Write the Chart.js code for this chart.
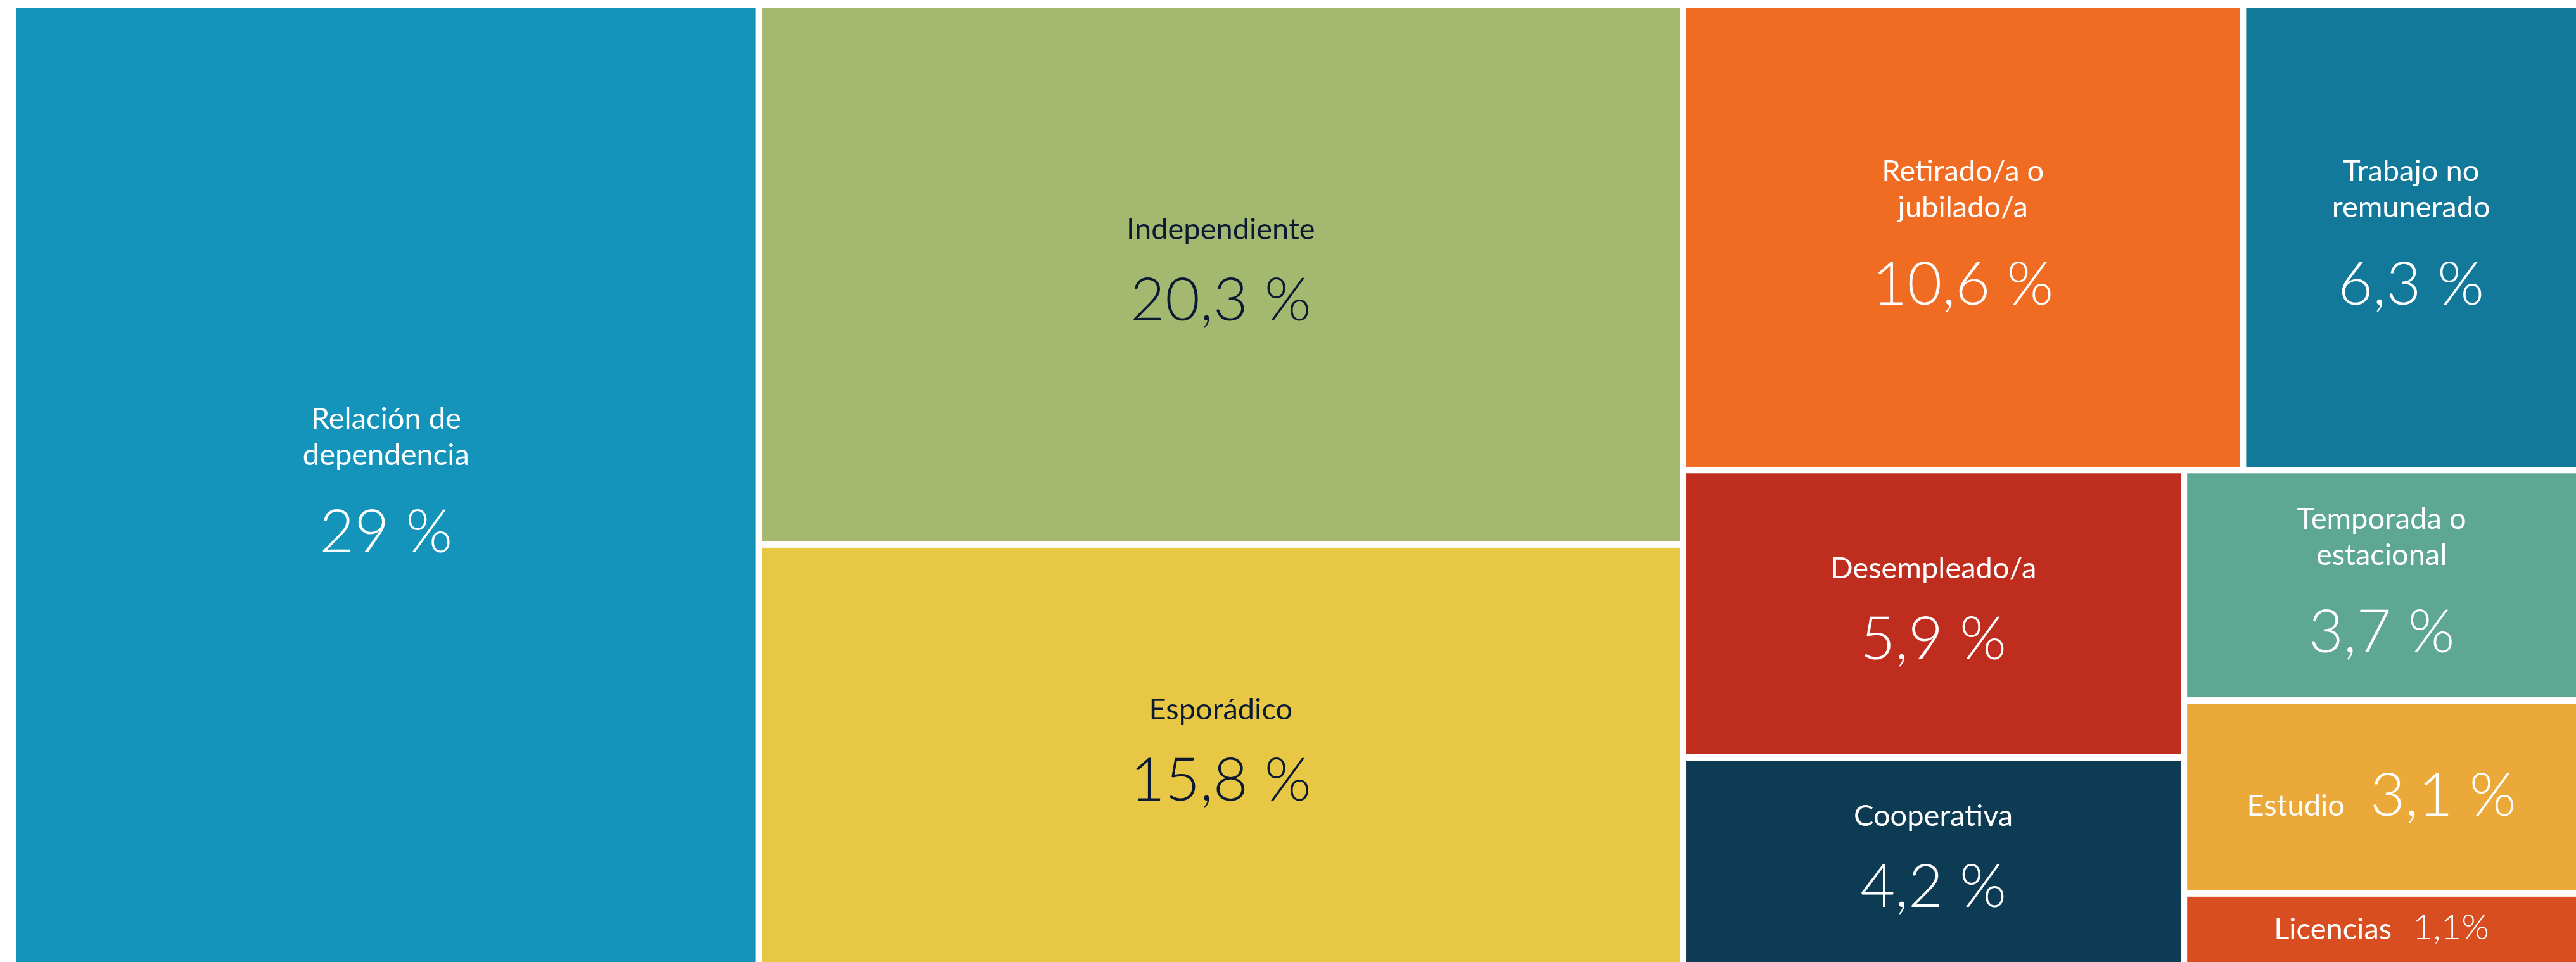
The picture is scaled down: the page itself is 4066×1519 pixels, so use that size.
<!DOCTYPE html>
<html>
<head>
<meta charset="utf-8">
<script src="https://cdn.jsdelivr.net/npm/chart.js@4/dist/chart.umd.min.js"></script>
<style>
  html, body { margin: 0; padding: 0; background: #ffffff; }
  #wrap { width: 4066px; height: 1519px; position: relative; }
</style>
</head>
<body>
<div id="wrap"><canvas id="c"></canvas></div>
<script>
// ---------------- DATA ----------------
const categories = [
  ["Relación de", "dependencia"],
  ["Independiente"],
  ["Esporádico"],
  ["Retirado/a o", "jubilado/a"],
  ["Trabajo no", "remunerado"],
  ["Desempleado/a"],
  ["Cooperativa"],
  ["Temporada o", "estacional"],
  ["Estudio"],
  ["Licencias"]
];
const values = [29, 20.3, 15.8, 10.6, 6.3, 5.9, 4.2, 3.7, 3.1, 1.1];
const valueLabels = ["29 %", "20,3 %", "15,8 %", "10,6 %", "6,3 %", "5,9 %", "4,2 %", "3,7 %", "3,1 %", "1,1%"];

// ---------------- STYLE / LAYOUT STRUCTURE ----------------
const fillColors = ["#1594bb", "#a4b86f", "#e8c744", "#f06c22", "#13799b",
                    "#bf2d1f", "#0e3b54", "#5ea893", "#eba93a", "#d84e20"];
const textColors = ["#ffffff", "#0b1a33", "#0b1a33", "#ffffff", "#ffffff",
                    "#ffffff", "#ffffff", "#ffffff", "#ffffff", "#ffffff"];
const inlineItems = new Set([8, 9]);   // label and value on one line
const smallValueItems = new Set([9]);  // smaller value text

// nesting of the treemap: 'h' splits horizontally (columns), 'v' vertically (rows)
const layoutTree = { dir: 'h', children: [
  0,
  { dir: 'v', children: [1, 2] },
  { dir: 'v', children: [
    { dir: 'h', children: [3, 4] },
    { dir: 'h', children: [
      { dir: 'v', children: [5, 6] },
      { dir: 'v', children: [7, 8, 9] }
    ]}
  ]}
]};

const GAP = 10;
const FONT = 'Lato';

function nodeSum(n) {
  return (typeof n === 'number') ? values[n] : n.children.reduce((s, c) => s + nodeSum(c), 0);
}
// layout in value space (0..100 on both axes)
function layout(n, x0, x1, y0, y1, out) {
  if (typeof n === 'number') { out[n] = { x0, x1, y0, y1 }; return; }
  const total = nodeSum(n);
  let acc = 0;
  n.children.forEach(c => {
    const f0 = acc / total;
    acc += nodeSum(c);
    const f1 = acc / total;
    if (n.dir === 'h') layout(c, x0 + (x1 - x0) * f0, x0 + (x1 - x0) * f1, y0, y1, out);
    else layout(c, x0, x1, y0 + (y1 - y0) * f0, y0 + (y1 - y0) * f1, out);
  });
}

const treemapPlugin = {
  id: 'treemapCells',
  afterDatasetsDraw(chart) {
    const ctx = chart.ctx;
    const xs = chart.scales.x, ys = chart.scales.y;
    const cells = [];
    layout(layoutTree, xs.min, xs.max, ys.min, ys.max, cells);
    const eps = 1e-6;
    cells.forEach((c, i) => {
      let l = xs.getPixelForValue(c.x0), r = xs.getPixelForValue(c.x1);
      let t = ys.getPixelForValue(c.y0), b = ys.getPixelForValue(c.y1);
      if (c.x0 > xs.min + eps) l += GAP / 2;
      if (c.x1 < xs.max - eps) r -= GAP / 2;
      if (c.y0 > ys.min + eps) t += GAP / 2;
      if (c.y1 < ys.max - eps) b -= GAP / 2;
      ctx.save();
      ctx.fillStyle = fillColors[i];
      ctx.fillRect(l, t, r - l, b - t);
      drawText(ctx, i, l, r, t, b);
      ctx.restore();
    });
  }
};

function drawText(ctx, i, l, r, t, b) {
  const cx = (l + r) / 2, cy = (t + b) / 2;
  const labelFont = '400 47px ' + FONT;
  const numSize = smallValueItems.has(i) ? 56 : 95;
  const numFont = '300 ' + numSize + 'px ' + FONT;
  const labelCap = 34, numCap = Math.round(numSize * 0.715);
  ctx.fillStyle = textColors[i];
  ctx.textBaseline = 'alphabetic';
  if (inlineItems.has(i)) {
    ctx.font = labelFont;
    const lw = ctx.measureText(categories[i][0]).width;
    ctx.font = numFont;
    const nw = ctx.measureText(valueLabels[i]).width;
    const gap = smallValueItems.has(i) ? 33 : 40;
    const start = cx - (lw + gap + nw) / 2;
    const base = cy + numCap / 2 - 4;
    ctx.textAlign = 'left';
    ctx.font = labelFont;
    ctx.fillText(categories[i][0], start, base);
    ctx.font = numFont;
    ctx.fillText(valueLabels[i], start + lw + gap, base);
  } else {
    const lines = categories[i];
    const LH = 57;
    const g = lines.length > 1 ? 138 : 128;
    const blockH = labelCap + (lines.length - 1) * LH + g;
    const top = cy - blockH / 2 - 9;
    ctx.textAlign = 'center';
    ctx.font = labelFont;
    lines.forEach((ln, k) => ctx.fillText(ln, cx, top + labelCap + k * LH));
    ctx.font = numFont;
    ctx.fillText(valueLabels[i], cx, top + blockH);
  }
}

function build() {
  new Chart(document.getElementById('c'), {
    type: 'scatter',
    data: { datasets: [{ data: [] }] },
    options: {
      responsive: true,
      maintainAspectRatio: false,
      animation: false,
      events: [],
      layout: { padding: { left: 26, top: 13, right: 0, bottom: 0 } },
      scales: {
        x: { type: 'linear', min: 0, max: 100, display: false },
        y: { type: 'linear', min: 0, max: 100, reverse: true, display: false }
      },
      plugins: { legend: { display: false }, tooltip: { enabled: false } }
    },
    plugins: [treemapPlugin]
  });
}
Promise.all([
  document.fonts.load('400 47px ' + FONT),
  document.fonts.load('300 95px ' + FONT)
]).then(build, build);
</script>
</body>
</html>
